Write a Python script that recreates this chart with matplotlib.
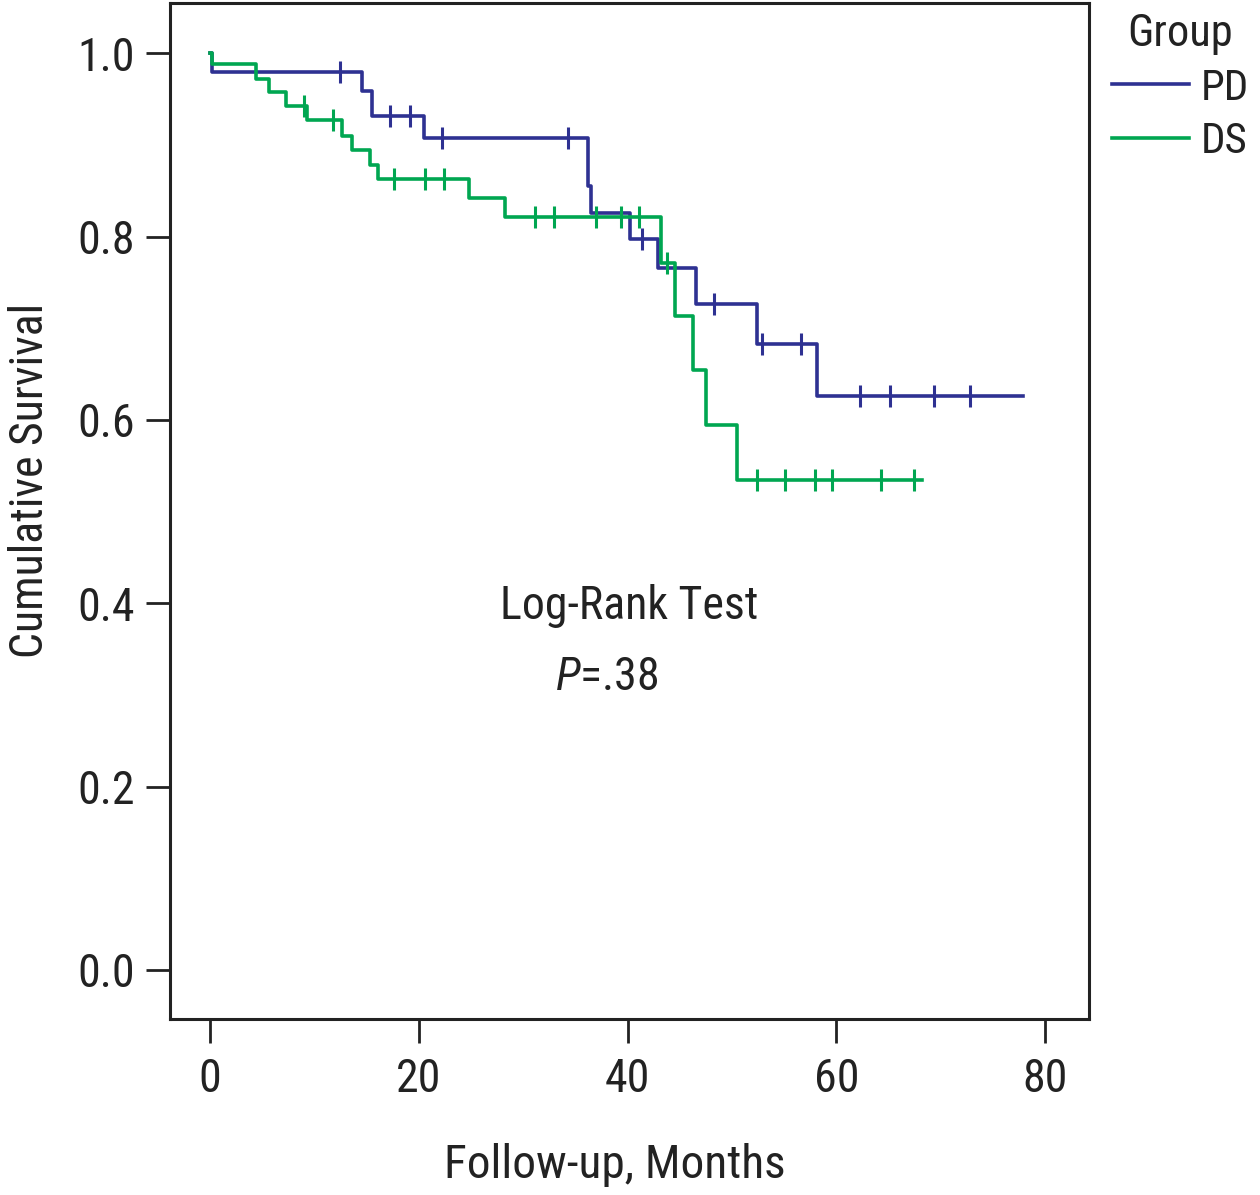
#%%
import numpy as np
import matplotlib
matplotlib.use("Agg")
import matplotlib.pyplot as plt
from matplotlib import font_manager as fm

#%%
# step curves: event times (months) and survival after each drop
pd_times = [0.0, 0.2, 14.6, 15.5, 20.5, 36.2, 36.45, 40.2, 42.9, 46.6, 52.4, 58.1]
pd_surv = [1.0, 0.980, 0.959, 0.932, 0.908, 0.855, 0.826, 0.797, 0.766, 0.727, 0.683, 0.626]
pd_end = 77.9
pd_censor = [12.5, 17.2, 19.2, 22.2, 34.3, 41.4, 48.3, 52.9, 56.6, 62.3, 65.1, 69.4, 72.8]

ds_times = [0.0, 0.2, 4.4, 5.7, 7.3, 9.3, 12.6, 13.6, 15.3, 16.1, 24.8, 28.3,
            43.2, 44.5, 46.3, 47.5, 50.5]
ds_surv = [1.0, 0.988, 0.972, 0.958, 0.943, 0.927, 0.910, 0.895, 0.878, 0.863, 0.842, 0.821,
           0.771, 0.713, 0.655, 0.594, 0.534]
ds_end = 68.2
ds_censor = [9.0, 11.8, 17.6, 20.6, 22.4, 31.1, 33.0, 37.0, 39.4, 41.1, 43.8,
             52.4, 55.1, 58.0, 59.6, 64.3, 67.4]

x_ticks = [0, 20, 40, 60, 80]
y_ticks = [0.0, 0.2, 0.4, 0.6, 0.8, 1.0]

groups = {
    "PD": (pd_times, pd_surv, pd_end, pd_censor, "#2E3192"),
    "DS": (ds_times, ds_surv, ds_end, ds_censor, "#00A651"),
}

#%%
# condensed sans if one is around, else DejaVu
names = {f.name for f in fm.fontManager.ttflist}
fam = 'DejaVu Sans'
for cand in ['Roboto Condensed', 'Archivo Narrow', 'PT Sans Narrow',
             'Liberation Sans Narrow', 'Pragati Narrow']:
    if cand in names:
        fam = cand
        break

plt.rcParams['font.family'] = [fam, 'DejaVu Sans']
plt.rcParams['mathtext.fontset'] = 'custom'
plt.rcParams['mathtext.it'] = fam + ':italic'
plt.rcParams['mathtext.rm'] = fam

fig = plt.figure(figsize=(12.6, 11.95), dpi=100)
fig.patch.set_facecolor('white')
ax = fig.add_axes([170 / 1260, 1 - 1019 / 1195, 919 / 1260, 1016.5 / 1195])

for name, (times, surv, end, cens, color) in groups.items():
    xs = list(times) + [end]
    ys = list(surv) + [surv[-1]]
    ax.step(xs, ys, where='post', color=color, linewidth=2.6, label=name)
    idx = np.searchsorted(times, cens, side='right') - 1
    cy = np.array(surv)[idx]
    ax.plot(cens, cy, linestyle='none', marker='|', markersize=16.5,
            markeredgewidth=2.2, color=color)

ax.set_xlim(-3.83, 84.2)
ax.set_ylim(-0.0535, 1.0554)
ax.set_xticks(x_ticks)
ax.set_xticklabels([str(t) for t in x_ticks])
ax.set_yticks(y_ticks)
ax.set_yticklabels([f"{t:.1f}" for t in y_ticks])

for s in ax.spines.values():
    s.set_linewidth(2.2)
    s.set_color('#222222')
ax.tick_params(direction='out', length=17, width=2.0, color='#222222',
               labelsize=33, labelcolor='#222222')
ax.tick_params(axis='x', pad=10)
ax.tick_params(axis='y', pad=8)

fig.text(30 / 1260, 1 - 480 / 1195, "Cumulative Survival", rotation=90,
         ha='center', va='center', fontsize=33, color='#222222')
fig.text(615 / 1260, 1 - 1178 / 1195, "Follow-up, Months",
         ha='center', va='baseline', fontsize=34, color='#222222')

ax.text(40.2, 0.383, "Log-Rank Test", ha='center', va='baseline',
        fontsize=33, color='#222222')
ax.text(38.0, 0.3054, r"$P$=.38", ha='center', va='baseline',
        fontsize=33, color='#222222')

leg = ax.legend(title="Group", loc='upper left', bbox_to_anchor=(1103 / 1260, 1 - 4 / 1195),
                bbox_transform=fig.transFigure, frameon=False, fontsize=31,
                title_fontsize=32, handlelength=1.8, handletextpad=0.28,
                labelspacing=0.3, borderaxespad=0, borderpad=0.2)
for t in leg.get_texts():
    t.set_color('#222222')
leg.get_title().set_color('#222222')

plt.savefig("out.png", dpi=100, facecolor='white')
